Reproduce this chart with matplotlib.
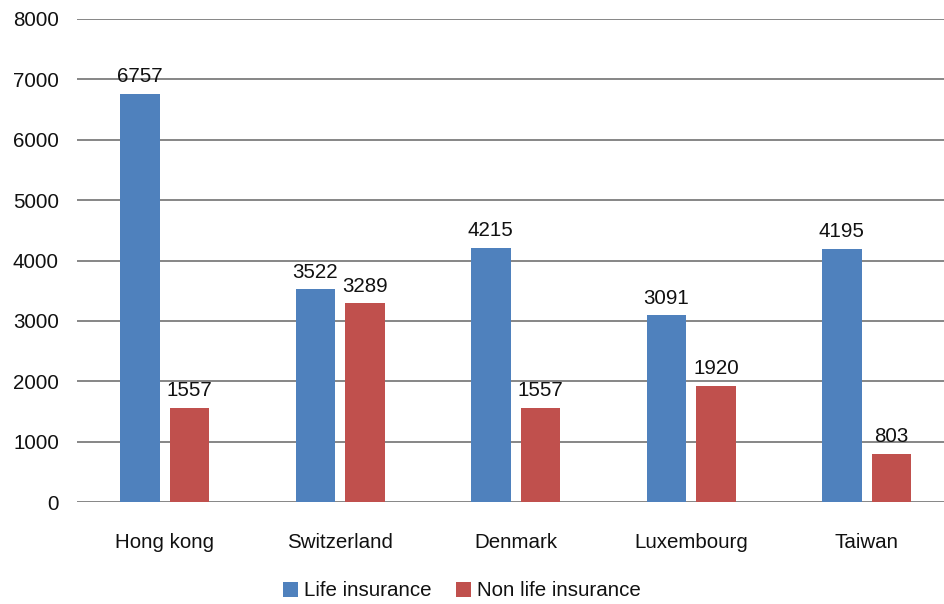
import matplotlib
matplotlib.use("Agg")
import matplotlib.pyplot as plt
import numpy as np

categories = ["Hong kong", "Switzerland", "Denmark", "Luxembourg", "Taiwan"]
life = [6757, 3522, 4215, 3091, 4195]
non_life = [1557, 3289, 1557, 1920, 803]
series_names = ["Life insurance", "Non life insurance"]
yticks = [0, 1000, 2000, 3000, 4000, 5000, 6000, 7000, 8000]

plt.rcParams['font.family'] = ['Liberation Sans', 'DejaVu Sans']

W, H = 944, 604
fs = 14.8
fig = plt.figure(figsize=(W/100, H/100), dpi=100)
left, right, top, bottom = 77, 954.5, 19, 502
ax = fig.add_axes([left/W, 1 - bottom/H, (right-left)/W, (bottom-top)/H])

x = np.arange(len(categories))
bw = 0.225
off = 0.142
blue = "#4F81BD"
red = "#C0504D"
b1 = ax.bar(x - off, life, bw, color=blue, label=series_names[0], zorder=3)
b2 = ax.bar(x + off, non_life, bw, color=red, label=series_names[1], zorder=3)

for rects, vals in ((b1, life), (b2, non_life)):
    for r, v in zip(rects, vals):
        ax.text(r.get_x() + r.get_width()/2, v + 130, str(v), ha='center', va='bottom',
                fontsize=fs, color='#111111')

ax.set_xlim(-0.5, len(categories) - 0.5)
ax.set_ylim(0, 8000)
ax.set_yticks(yticks)
ax.set_yticklabels([str(t) for t in yticks], fontsize=fs, color='#111111')
ax.set_xticks(x)
ax.set_xticklabels(categories, fontsize=fs, color='#111111')
ax.tick_params(axis='both', length=0)
ax.tick_params(axis='y', pad=13)
ax.tick_params(axis='x', pad=22)
ax.yaxis.grid(True, color='#868686', linewidth=1.4, zorder=0)
for s in ax.spines.values():
    s.set_visible(False)

leg = ax.legend(loc='center', frameon=False,
          fontsize=fs, ncol=2, handlelength=0.7, handleheight=0.7, handletextpad=0.3,
          columnspacing=1.2)
for t in leg.get_texts():
    t.set_color('#111111')
leg.set_bbox_to_anchor((462/W, 1 - 591/H), transform=fig.transFigure)

fig.savefig("out.png", dpi=100)
